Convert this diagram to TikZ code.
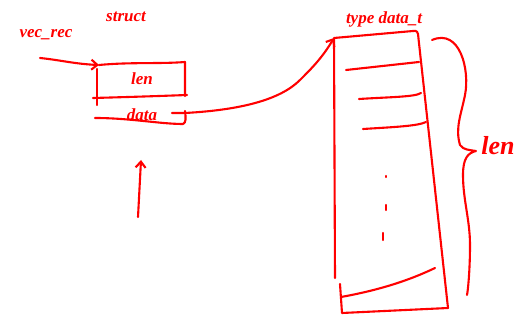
\documentclass[tikz,border=0pt]{standalone}
\usepackage{fontspec}
\setmainfont{Liberation Serif}
\usetikzlibrary{arrows.meta}
\definecolor{ink}{RGB}{255,0,0}
\tikzset{
  pen/.style={draw=ink, line width=2.1pt, line cap=round, line join=round},
  inkarrow/.style={pen, -{Straight Barb[length=6pt,width=10pt]}},
  scrawl/.style={text=ink, font=\bfseries\itshape\fontsize{17}{17}\selectfont, inner sep=0pt},
}
\begin{document}
\begin{tikzpicture}[x=1pt,y=-1pt]
\useasboundingbox (0,0) rectangle (519,320);
\fill[white] (0,0) rectangle (519,320);

% labels
\node[scrawl] (vecrec) at (46,35) {vec\_rec};
\node[scrawl] (structlbl) at (126,17) {struct};
\node[scrawl] (typelbl) at (384,19) {type data\_t};
\node[scrawl, font=\bfseries\itshape\fontsize{26}{26}\selectfont] (lenlbl) at (498,146) {len};

% struct with two fields
\coordinate (sTL) at (99,65);
\coordinate (sTR) at (185,62);
\node[scrawl] (lenfield) at (142,79) {len};
\node[scrawl] (datafield) at (142,115) {data};
\draw[pen] (97,69) -- (97,105);
\draw[pen] (sTL) .. controls (130,62) and (160,64) .. (sTR) -- (185,96);
\draw[pen] (93,98) .. controls (130,97) and (160,96) .. (187,95);
\draw[pen] (95,118) .. controls (130,118) and (160,124) .. (183,124) .. controls (186,123) and (186,118) .. (185,111);

% pointer into the struct
\coordinate (vecstart) at (40,58);
\draw[inkarrow] (vecstart) .. controls (60,60) and (75,64) .. (sTL);

% arrow pointing up at the struct
\coordinate (upstart) at (138,217);
\coordinate (upend) at (141,160);
\draw[inkarrow] (upstart) -- (upend);

% array of data_t
\coordinate (aTL) at (334,38);
\coordinate (aTR) at (416,30);
\coordinate (aBR) at (448,308);
\coordinate (aBL) at (342,313);
\draw[pen] (335,278) -- (aTL) -- (413,31) .. controls (417,30) and (418,33) .. (418,34) -- (aBR) -- (aBL) -- (340,284);
\draw[pen] (346,70) -- (419,62);
\draw[pen] (359,99) .. controls (390,97) and (415,97) .. (421,93);
\draw[pen] (363,129) .. controls (395,127) and (418,126) .. (426,122);
\draw[pen] (341,297) .. controls (380,290) and (410,280) .. (435,268);
\draw[pen] (386,176) -- (386,177);
\draw[pen] (386,205) -- (386,210);
\draw[pen] (383,233) -- (383,240);

% pointer from the data field to the array
\coordinate (dstart) at (172,113);
\draw[inkarrow] (dstart) -- (185,113) .. controls (240,110) and (280,100) .. (300,80) .. controls (312,68) and (322,58) .. (aTL);

% brace spanning the array length
\draw[pen] (432,40) .. controls (460,28) and (470,70) .. (465,95)
  .. controls (461,115) and (455,128) .. (460,145) .. controls (463,150) and (470,150) .. (476,151)
  .. controls (468,153) and (463,158) .. (463,175) .. controls (463,200) and (470,220) .. (470,245)
  .. controls (470,270) and (468,290) .. (467,295);
\end{tikzpicture}
\end{document}
